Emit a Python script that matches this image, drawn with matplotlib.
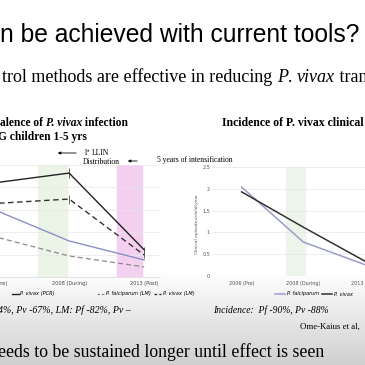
import numpy as np
import matplotlib.pyplot as plt
from matplotlib.lines import Line2D

# left chart: prevalence (%) in PNG children
years = ["2006 (Pre)", "2008 (During)", "2013 (Post)"]
pv_pcr = [42.0, 46.4, 12.1]
pv_pcr_err = [0, 2.2, 1.5]
pv_lm = [32.8, 34.8, 9.8]
pv_lm_err = [0, 2.0, 1.2]
pf_pcr = [30.1, 16.1, 7.6]
pf_lm = [18.1, 9.4, 4.5]

# right chart: clinical episodes/child/year
inc_pf = [2.04, 0.78, 0.26]
inc_pv = [1.93, 1.12, 0.34]
inc_ticks = [0, 0.5, 1, 1.5, 2, 2.5]

SERIF = 'Liberation Serif'
SANS = 'Liberation Sans'

fig = plt.figure(figsize=(3.65, 3.65), dpi=100)

# slide background (pixel coordinates)
bg = fig.add_axes([0, 0, 1, 1], zorder=-5)
rows = np.arange(365)
shade = np.where(rows < 270, 1.0, 1.0 - (rows - 270) / 95 * 0.19)
bg.imshow(shade[:, None], cmap='gray', vmin=0, vmax=1, extent=(0, 365, 365, 0), aspect='auto')
bg.set_xlim(0, 365)
bg.set_ylim(365, 0)
bg.axis('off')


def rich(x, y, parts, **kw):
    t = bg.text(x, y, parts[0][0], style=parts[0][1], va='baseline', **kw)
    for s, st in parts[1:]:
        t = bg.annotate(s, xy=(1, 0), xycoords=t, va='bottom', ha='left', style=st, **kw)
    return t


def fxy(x, y):
    return (x / 365, 1 - y / 365)


# headings
bg.text(0, 42, "n be achieved with current tools?", family=SANS, fontsize=17.7, va='baseline')
rich(2, 82, [("trol methods are effective in reducing ", 'normal'), ("P", 'italic'),
             (". ", 'normal'), ("vivax", 'italic'), (" tran", 'normal')],
     family=SERIF, fontsize=13)

# ---- left chart ----
axL = fig.add_axes([0, 1 - 277 / 365, 160 / 365, 112 / 365])
axL.set_facecolor('none')
axL.set_xlim(0.08, 2.21)
axL.set_ylim(0, 50)
axL.axvspan(0.587, 0.973, color='#ecf4e8', zorder=0)
axL.axvspan(1.64, 1.97, color='#f3d0ef', zorder=0)
axL.set_yticks([10, 20, 30, 40, 50])
axL.grid(axis='y', color='#e8e8e8', lw=0.5)
axL.set_axisbelow(True)
axL.tick_params(left=False, labelleft=False, bottom=False, labelbottom=False)
for s in axL.spines.values():
    s.set_visible(False)
axL.spines['bottom'].set_visible(True)
axL.spines['bottom'].set_color('#d9d9d9')
axL.spines['bottom'].set_linewidth(0.5)

x = np.arange(len(years))
l_pfpcr, = axL.plot(x, pf_pcr, color='#8b8fc7', lw=1.0, label='P. falciparum (PCR)')
axL.plot(x, pf_lm, color='#8a8a8a', lw=0.9, ls=(0, (4, 2.5)))
axL.errorbar(x, pv_pcr, yerr=pv_pcr_err, color='#222222', lw=1.0, elinewidth=0.5)
axL.errorbar(x, pv_lm, yerr=pv_lm_err, color='#333333', lw=1.0, elinewidth=0.5, ls=(0, (4, 2.5)))
for i, lab in enumerate(years):
    axL.text(i, -1.8, lab, ha='center', va='top', fontsize=3.6, color='#444444', clip_on=False)

h_pvpcr = Line2D([], [], color='#222222', lw=1.0, label='P. vivax (PCR)')
h_pvlm = Line2D([], [], color='#333333', lw=1.0, ls=(0, (2, 1.5)), label='P. vivax (LM)')
h_pflm = Line2D([], [], color='#8a8a8a', lw=0.9, ls=(0, (2, 1.5)), label='P. falciparum (LM)')
fig.legend(handles=[l_pfpcr, h_pvpcr], ncol=2, loc='center right', bbox_to_anchor=fxy(55, 294),
           frameon=False, borderpad=0, borderaxespad=0, handlelength=1.4,
           handletextpad=0.3, columnspacing=2.4, prop={'style': 'italic', 'size': 3.6})
fig.legend(handles=[h_pflm, h_pvlm], ncol=2, loc='center left', bbox_to_anchor=fxy(97, 294),
           frameon=False, borderpad=0, borderaxespad=0, handlelength=1.4,
           handletextpad=0.3, columnspacing=0.8, prop={'style': 'italic', 'size': 3.6})

rich(0, 126, [("alence of ", 'normal'), ("P. vivax", 'italic'), (" infection", 'normal')],
     family=SERIF, fontsize=8.3, fontweight='bold')
bg.text(-2, 140, "G children 1-5 yrs", family=SERIF, fontsize=8.3, fontweight='bold', va='baseline')

# annotations
bg.text(83, 155, "1", family=SERIF, fontsize=5.5, va='baseline')
bg.text(86.3, 152.5, "st", family=SERIF, fontsize=3.5, va='baseline')
bg.text(92, 155, "LLIN", family=SERIF, fontsize=5.5, va='baseline')
bg.text(83, 164, "Distribution", family=SERIF, fontsize=5.5, va='baseline')
bg.annotate("", xy=(55, 153), xytext=(79, 153),
            arrowprops=dict(arrowstyle='-|>', lw=0.6, color='black', mutation_scale=4))
bg.annotate("", xy=(125, 161), xytext=(140, 161),
            arrowprops=dict(arrowstyle='-|>', lw=0.6, color='black', mutation_scale=4))
bg.text(157, 162, "5 years of intensification", family=SERIF, fontsize=5.5, va='baseline')

# ---- right chart ----
axR = fig.add_axes([212 / 365, 1 - 276 / 365, 153 / 365, 109 / 365])
axR.set_facecolor('none')
axR.set_xlim(-0.48, 1.616)
axR.set_ylim(0, 2.5)
axR.axvspan(0.726, 1.03, color='#edf4e9', zorder=0)
axR.set_yticks(inc_ticks, [f"{t:g}" for t in inc_ticks])
axR.set_xticks(x, years)
axR.grid(axis='y', color='#e6e6e6', lw=0.5)
axR.set_axisbelow(True)
axR.tick_params(length=0, labelsize=3.5, labelcolor='#555555')
axR.tick_params(axis='y', pad=1.5)
axR.tick_params(axis='x', pad=3.6)
for s in axR.spines.values():
    s.set_visible(False)
r_pf, = axR.plot(x, inc_pf, color='#9a9dc8', lw=1.1, label='P. falciparum')
r_pv, = axR.plot(x, inc_pv, color='#333333', lw=1.1, label='P. vivax')
fig.legend(handles=[r_pf, r_pv], ncol=2, loc='center left', bbox_to_anchor=fxy(275, 294),
           frameon=False, borderpad=0, borderaxespad=0, handlelength=2.0,
           handletextpad=0.4, columnspacing=0.5, prop={'style': 'italic', 'size': 3.6})
bg.text(197, 224, "Clinical episodes/child/year", rotation=90, ha='center', va='center',
        fontsize=3.2, color='#555555')
bg.text(222, 126, "Incidence of P. vivax clinical", family=SERIF, fontsize=8.5,
        fontweight='bold', va='baseline')

# summary lines
bg.text(-2, 313, "4%, Pv -67%, LM: Pf -82%, Pv \u2013", family=SERIF, style='italic',
        fontsize=7.1, va='baseline')
bg.text(213, 313, "Incidence:  Pf -90%, Pv -88%", family=SERIF, style='italic',
        fontsize=6.9, va='baseline')
bg.text(300, 329, "Ome-Kaius et al,", family=SERIF, fontsize=6.3, va='baseline')
bg.text(-2, 357, "eeds to be sustained longer until effect is seen", family=SERIF,
        fontsize=12.8, va='baseline')

fig.savefig("out.png", dpi=100)
